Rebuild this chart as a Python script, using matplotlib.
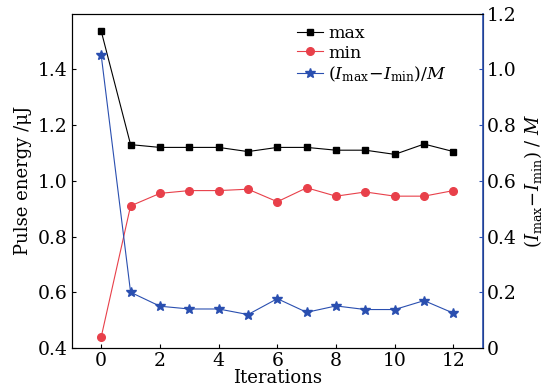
import matplotlib.pyplot as plt

plt.rcParams['font.family'] = ['DejaVu Serif']
plt.rcParams['mathtext.fontset'] = 'dejavuserif'

iters = list(range(13))
e_max = [1.537, 1.13, 1.12, 1.12, 1.12, 1.105, 1.12, 1.12, 1.11, 1.11, 1.095, 1.132, 1.105]
e_min = [0.44, 0.91, 0.955, 0.965, 0.965, 0.97, 0.925, 0.975, 0.945, 0.96, 0.945, 0.945, 0.965]
ratio = [1.05, 0.20, 0.15, 0.14, 0.14, 0.12, 0.177, 0.128, 0.151, 0.138, 0.138, 0.170, 0.125]

blue = '#2a4fb0'
red = '#e8404a'

fig, ax = plt.subplots(figsize=(5.53, 3.91), dpi=100)
ax2 = ax.twinx()

l1, = ax.plot(iters, e_max, color='black', marker='s', markersize=5, lw=0.8, label='max')
l2, = ax.plot(iters, e_min, color=red, marker='o', markersize=5.5, lw=0.8, label='min')
l3, = ax2.plot(iters, ratio, color=blue, marker='*', markersize=7.5, lw=0.8,
               label=r'$(I_{\rm max}\!-\!I_{\rm min})/M$')

ax.set_xlim(-1, 13)
ax.set_ylim(0.4, 1.6)
ax.set_xticks([0, 2, 4, 6, 8, 10, 12])
ax.set_yticks([0.4, 0.6, 0.8, 1.0, 1.2, 1.4])
ax.set_yticklabels(['0.4', '0.6', '0.8', '1.0', '1.2', '1.4'])
ax2.set_ylim(0, 1.2)
ax2.set_yticks([0, 0.2, 0.4, 0.6, 0.8, 1.0, 1.2])
ax2.set_yticklabels(['0', '0.2', '0.4', '0.6', '0.8', '1.0', '1.2'])

ax.tick_params(direction='in', labelsize=13.5, length=3, pad=3)
ax2.tick_params(direction='in', labelsize=13.5, length=3, color=blue, pad=3)
ax2.spines['right'].set_color(blue)
ax2.spines['right'].set_linewidth(1.2)

ax.set_xlabel('Iterations', fontsize=13, labelpad=-1)
ax.set_ylabel('Pulse energy /μJ', fontsize=13, labelpad=4)
ax2.set_ylabel(r'$(I_{\rm max}\!-\!I_{\rm min})\ /\ M$', fontsize=13, labelpad=4)

ax.legend(handles=[l1, l2, l3], loc='upper left', bbox_to_anchor=(0.52, 1.0),
          frameon=False, fontsize=12.5, handlelength=1.5, handletextpad=0.3,
          labelspacing=0.15, borderaxespad=0.25)

fig.subplots_adjust(left=0.13, right=0.873, top=0.965, bottom=0.11)
fig.savefig('out.png')
